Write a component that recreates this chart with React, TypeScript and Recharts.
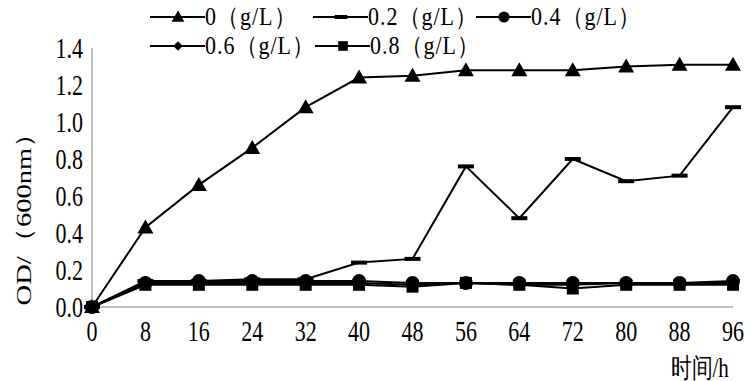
import React from "react";
import { LineChart, Line, XAxis, YAxis } from "recharts";

const hours = [0, 8, 16, 24, 32, 40, 48, 56, 64, 72, 80, 88, 96];
const od0 = [0, 0.43, 0.66, 0.86, 1.08, 1.24, 1.25, 1.28, 1.28, 1.28, 1.3, 1.31, 1.31];
const od02 = [0, 0.14, 0.14, 0.15, 0.15, 0.24, 0.26, 0.76, 0.48, 0.8, 0.68, 0.71, 1.08];
const od04 = [0, 0.13, 0.14, 0.14, 0.14, 0.14, 0.13, 0.13, 0.13, 0.13, 0.13, 0.13, 0.14];
const od06 = [0, 0.13, 0.13, 0.13, 0.13, 0.13, 0.12, 0.13, 0.12, 0.12, 0.13, 0.13, 0.13];
const od08 = [0, 0.12, 0.12, 0.12, 0.12, 0.12, 0.11, 0.13, 0.12, 0.1, 0.12, 0.12, 0.12];
const xTicks = [0, 8, 16, 24, 32, 40, 48, 56, 64, 72, 80, 88, 96];
const yTicks = [0, 0.2, 0.4, 0.6, 0.8, 1.0, 1.2, 1.4];
const seriesNames = ["0（g/L）", "0.2（g/L）", "0.4（g/L）", "0.6（g/L）", "0.8（g/L）"];

const data = hours.map((h, i) => ({
  h,
  s0: od0[i],
  s02: od02[i],
  s04: od04[i],
  s06: od06[i],
  s08: od08[i],
}));

const FONT = "Liberation Serif, Times New Roman, Tinos, DejaVu Serif, serif";
const STRETCH = 1.3;

type Shape = "tri" | "dash" | "circle" | "diamond" | "square";

const Marker = ({ cx, cy, shape, k = 1 }: { cx: number; cy: number; shape: Shape; k?: number }) => {
  if (shape === "tri")
    return <polygon points={`${cx},${cy - 8 * k} ${cx - 8 * k},${cy + 6 * k} ${cx + 8 * k},${cy + 6 * k}`} fill="#000" />;
  if (shape === "dash") return <rect x={cx - 8 * k} y={cy - 2} width={16 * k} height={4} fill="#000" />;
  if (shape === "circle") return <circle cx={cx} cy={cy} r={7 * k} fill="#000" />;
  if (shape === "diamond")
    return <polygon points={`${cx},${cy - 6 * k} ${cx + 6 * k},${cy} ${cx},${cy + 6 * k} ${cx - 6 * k},${cy}`} fill="#000" />;
  return <rect x={cx - 6 * k} y={cy - 6 * k} width={12 * k} height={12 * k} fill="#000" />;
};

const dotFor = (shape: Shape) => (p: any) => (
  <g key={p.key ?? `${shape}-${p.index}`}>
    <Marker cx={p.cx} cy={p.cy} shape={shape} />
  </g>
);

const XTick = (p: any) => (
  <g transform={`translate(${p.x},${p.y + 24}) scale(1,${STRETCH})`}>
    <text textAnchor="middle" dominantBaseline="central" fontFamily={FONT} fontSize={22} fill="#000">
      {p.payload.value}
    </text>
  </g>
);

const YTick = (p: any) => (
  <g transform={`translate(${p.x - 9},${p.y}) scale(1,${STRETCH})`}>
    <text textAnchor="end" dominantBaseline="central" fontFamily={FONT} fontSize={22} fill="#000">
      {Number(p.payload.value).toFixed(1)}
    </text>
  </g>
);

const LegendItem = ({ left, top, shape, label }: { left: number; top: number; shape: Shape; label: string }) => (
  <div style={{ position: "absolute", left, top, height: 22, display: "flex", alignItems: "center", whiteSpace: "nowrap" }}>
    <svg width={55} height={20}>
      <line x1={0} y1={10} x2={55} y2={10} stroke="#000" strokeWidth={2} />
      <Marker cx={28} cy={10} shape={shape} k={0.8} />
    </svg>
    <span
      style={{
        fontFamily: FONT,
        fontSize: 22,
        color: "#000",
        lineHeight: "20px",
        letterSpacing: 1,
        display: "inline-block",
        transform: `scaleY(1.15)`,
      }}
    >
      {label}
    </span>
  </div>
);

export default function App() {
  return (
    <div style={{ position: "absolute", left: 0, top: 0, width: 756, height: 381, background: "#fff" }}>
      <LineChart width={756} height={381} data={data} margin={{ top: 48, right: 23, bottom: 0, left: 0 }}>
        <XAxis
          dataKey="h"
          type="number"
          domain={[0, 96]}
          ticks={xTicks}
          tickLine={false}
          tickSize={0}
          tickMargin={0}
          axisLine={{ stroke: "#bdbdbd", strokeWidth: 2 }}
          tick={<XTick />}
          height={74}
          interval={0}
        />
        <YAxis
          type="number"
          domain={[0, 1.4]}
          ticks={yTicks}
          tickLine={false}
          tickSize={0}
          tickMargin={0}
          axisLine={{ stroke: "#bdbdbd", strokeWidth: 2 }}
          tick={<YTick />}
          width={92}
          interval={0}
        />
        <Line dataKey="s0" stroke="#000" strokeWidth={2} dot={dotFor("tri")} isAnimationActive={false} />
        <Line dataKey="s02" stroke="#000" strokeWidth={2} dot={dotFor("dash")} isAnimationActive={false} />
        <Line dataKey="s04" stroke="#000" strokeWidth={2} dot={dotFor("circle")} isAnimationActive={false} />
        <Line dataKey="s06" stroke="#000" strokeWidth={2} dot={dotFor("diamond")} isAnimationActive={false} />
        <Line dataKey="s08" stroke="#000" strokeWidth={2} dot={dotFor("square")} isAnimationActive={false} />
        <g transform={`translate(24,212) rotate(-90) scale(${STRETCH},1)`}>
          <text textAnchor="middle" dominantBaseline="central" fontFamily={FONT} fontSize={22} fill="#000">
            OD/（600nm）
          </text>
        </g>
        <g transform={`translate(700,367) scale(1,${STRETCH})`}>
          <text textAnchor="middle" dominantBaseline="central" fontFamily={FONT} fontSize={21} fill="#000">
            时间/h
          </text>
        </g>
      </LineChart>
      <LegendItem left={150} top={6} shape="tri" label={seriesNames[0]} />
      <LegendItem left={313} top={6} shape="dash" label={seriesNames[1]} />
      <LegendItem left={476} top={6} shape="circle" label={seriesNames[2]} />
      <LegendItem left={150} top={35} shape="diamond" label={seriesNames[3]} />
      <LegendItem left={315} top={35} shape="square" label={seriesNames[4]} />
    </div>
  );
}
